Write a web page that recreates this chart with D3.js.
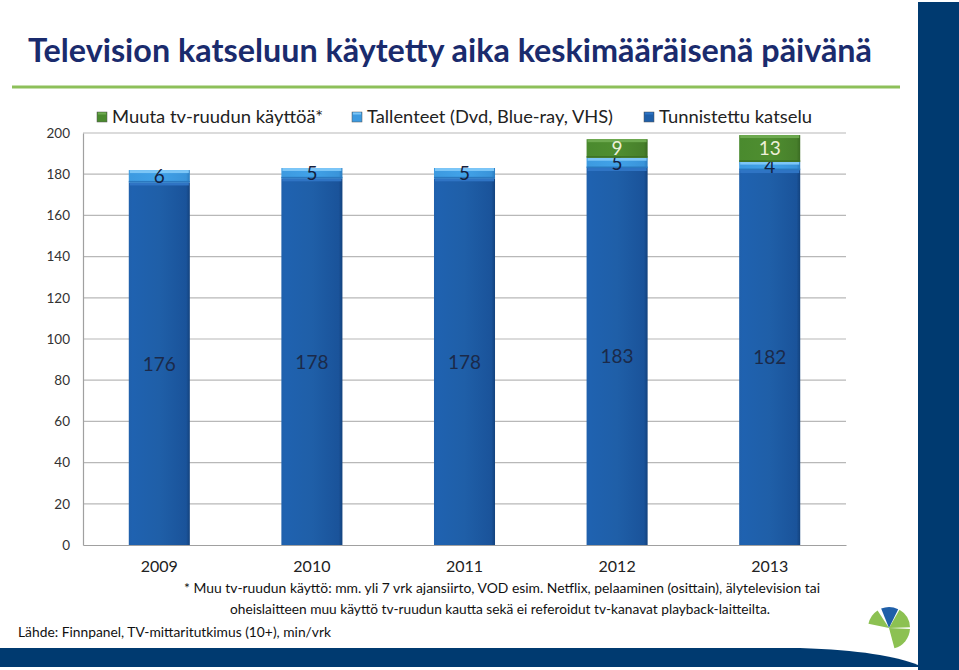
<!DOCTYPE html>
<html><head><meta charset="utf-8">
<script src="https://cdn.jsdelivr.net/npm/d3@7"></script>
<style>body{margin:0;background:#fff}svg{display:block}</style>
</head><body>
<svg id="c" width="959" height="670"></svg>
<script>
const years = ["2009","2010","2011","2012","2013"];
const tunnistettu = [176,178,178,183,182];
const tallenteet = [6,5,5,5,4];
const muuta = [0,0,0,9,13];
const yTicks = [0,20,40,60,80,100,120,140,160,180,200];
const seriesNames = ["Muuta tv-ruudun käyttöä*","Tallenteet (Dvd, Blue-ray, VHS)","Tunnistettu katselu"];
const titleText = "Television katseluun käytetty aika keskimääräisenä päivänä";
const note1 = "* Muu tv-ruudun käyttö:  mm. yli 7 vrk ajansiirto, VOD esim. Netflix, pelaaminen (osittain), älytelevision tai";
const note2 = "oheislaitteen muu käyttö tv-ruudun kautta sekä ei referoidut tv-kanavat playback-laitteilta.";
const sourceText = "Lähde: Finnpanel, TV-mittaritutkimus (10+), min/vrk";

const svg = d3.select("#c");
const font = "Lato, 'Open Sans', sans-serif";
const defs = svg.append("defs");
function hgrad(id, stops){
  const g = defs.append("linearGradient").attr("id",id).attr("x1","0").attr("x2","1").attr("y1","0").attr("y2","0");
  stops.forEach(s=>g.append("stop").attr("offset",s[0]).attr("stop-color",s[1]));
}
hgrad("gDark",[[0,"#2060ab"],[0.06,"#1f62b0"],[0.5,"#1f5fa8"],[0.94,"#1a539a"],[1,"#13427d"]]);
hgrad("gLight",[[0,"#3d9ae0"],[0.5,"#41a2e8"],[0.94,"#3a94da"],[1,"#2c7dc0"]]);
hgrad("gGreen",[[0,"#4a8a2e"],[0.5,"#4f8e30"],[0.94,"#477f2b"],[1,"#3a6b22"]]);

// Decorations
svg.append("rect").attr("x",918).attr("y",2).attr("width",41).attr("height",668).attr("fill","#003a70");
svg.append("path").attr("d","M0,648 L800,648 C860,650 895,656 918,665 L918,667 L0,667 Z").attr("fill","#003a70");
svg.append("rect").attr("x",12).attr("y",85.5).attr("width",888).attr("height",3).attr("fill","#8dc05a");

svg.append("text").attr("x",28).attr("y",62).attr("font-family",font).attr("font-weight","bold")
  .attr("font-size",32).attr("fill","#1a2b6d").attr("textLength",844).attr("lengthAdjust","spacingAndGlyphs").text(titleText);

// Chart
const m = {l:83, r:846, t:133, b:545};
const x = d3.scaleBand().domain(years).range([m.l,m.r]).paddingInner(0.6).paddingOuter(0.3);
const y = d3.scaleLinear().domain([0,200]).range([m.b,m.t]);

const gridG = svg.append("g");
yTicks.forEach(t=>{
  if(t===0) return;
  gridG.append("line").attr("x1",m.l).attr("x2",m.r).attr("y1",y(t)).attr("y2",y(t)).attr("stroke","#b8b8b8").attr("stroke-width",1.2);
});
const yAxis = svg.append("g").attr("transform",`translate(${m.l},0)`)
  .call(d3.axisLeft(y).tickValues(yTicks).tickSize(0).tickPadding(13));
yAxis.select(".domain").attr("stroke","#a0a0a0").attr("stroke-width",1.2);
yAxis.selectAll("text").attr("font-family",font).attr("font-size",13.5).attr("fill","#333");

const xAxis = svg.append("g").attr("transform",`translate(0,${m.b})`)
  .call(d3.axisBottom(x).tickSize(0).tickPadding(16));
xAxis.select(".domain").attr("stroke","#a0a0a0").attr("stroke-width",1.2);
xAxis.selectAll("text").attr("font-family",font).attr("font-size",16).attr("fill","#222");

const rows = years.map((yr,i)=>({year:yr, tunnistettu:tunnistettu[i], tallenteet:tallenteet[i], muuta:muuta[i]}));
const stack = d3.stack().keys(["tunnistettu","tallenteet","muuta"])(rows);
const fills = {tunnistettu:"url(#gDark)", tallenteet:"url(#gLight)", muuta:"url(#gGreen)"};
const tops = {tunnistettu:"#2f74c4", tallenteet:"#7cc6f7", muuta:"#6eaa50"};
const bots = {tunnistettu:"#174a88", tallenteet:"#2a78bf", muuta:"#3b6e22"};
const labCol = {tunnistettu:"#1b2a4a", tallenteet:"#14213f", muuta:"#eef0d8"};

const barG = svg.append("g");
stack.forEach(s=>{
  s.forEach(d=>{
    const v = d[1]-d[0];
    if(v<=0) return;
    const bx = x(d.data.year), bw = x.bandwidth();
    const yt = y(d[1]), yb = y(d[0]), h = yb-yt;
    barG.append("rect").attr("x",bx).attr("y",yt).attr("width",bw).attr("height",h).attr("fill",fills[s.key]);
    barG.append("rect").attr("x",bx+1).attr("y",yt).attr("width",bw-2).attr("height",Math.min(3,h/3)).attr("fill",tops[s.key]);
    if(s.key!=="tunnistettu") barG.append("rect").attr("x",bx).attr("y",yb-1.5).attr("width",bw).attr("height",1.5).attr("fill",bots[s.key]);
    barG.append("text").attr("x",bx+bw/2).attr("y",(yt+yb)/2).attr("dy","0.36em").attr("text-anchor","middle")
      .attr("font-family",font).attr("font-size",19).attr("fill",labCol[s.key]).text(v);
  });
});

// Legend
const legend = [
  {name:seriesNames[0], x:97, tx:112, w:211, c:"#4a8a2e", hc:"#6eaa50"},
  {name:seriesNames[1], x:352, tx:367, w:246, c:"#3d9ae0", hc:"#7cc6f7"},
  {name:seriesNames[2], x:644, tx:659, w:153, c:"#1f5fa8", hc:"#2f74c4"}
];
legend.forEach(l=>{
  svg.append("rect").attr("x",l.x).attr("y",112).attr("width",10).attr("height",10).attr("fill",l.c).attr("stroke","#555").attr("stroke-width",0.5);
  svg.append("rect").attr("x",l.x+1).attr("y",112.5).attr("width",8).attr("height",2).attr("fill",l.hc);
  svg.append("text").attr("x",l.tx).attr("y",123).attr("font-family",font).attr("font-size",17).attr("fill","#222")
    .attr("textLength",l.w).attr("lengthAdjust","spacingAndGlyphs").text(l.name);
});

// Notes
svg.append("text").attr("x",184).attr("y",593).attr("font-family",font).attr("font-size",14).attr("fill","#111")
  .attr("textLength",636).attr("lengthAdjust","spacingAndGlyphs").text(note1);
svg.append("text").attr("x",230).attr("y",614).attr("font-family",font).attr("font-size",14).attr("fill","#111")
  .attr("textLength",540).attr("lengthAdjust","spacingAndGlyphs").text(note2);
svg.append("text").attr("x",18).attr("y",637).attr("font-family",font).attr("font-size",14).attr("fill","#111")
  .attr("textLength",313).attr("lengthAdjust","spacingAndGlyphs").text(sourceText);

// Logo
const logo = svg.append("g").attr("transform","translate(889,628)");
const arc = d3.arc().innerRadius(0).outerRadius(21);
const deg = Math.PI/180;
[[-78,-33,"#8cc152"],[-22,26,"#1f5fa8"],[30,88,"#8cc152"],[93,165,"#8cc152"]].forEach(a=>{
  logo.append("path").attr("d",arc({startAngle:a[0]*deg,endAngle:a[1]*deg})).attr("fill",a[2]);
});
</script>
</body></html>
